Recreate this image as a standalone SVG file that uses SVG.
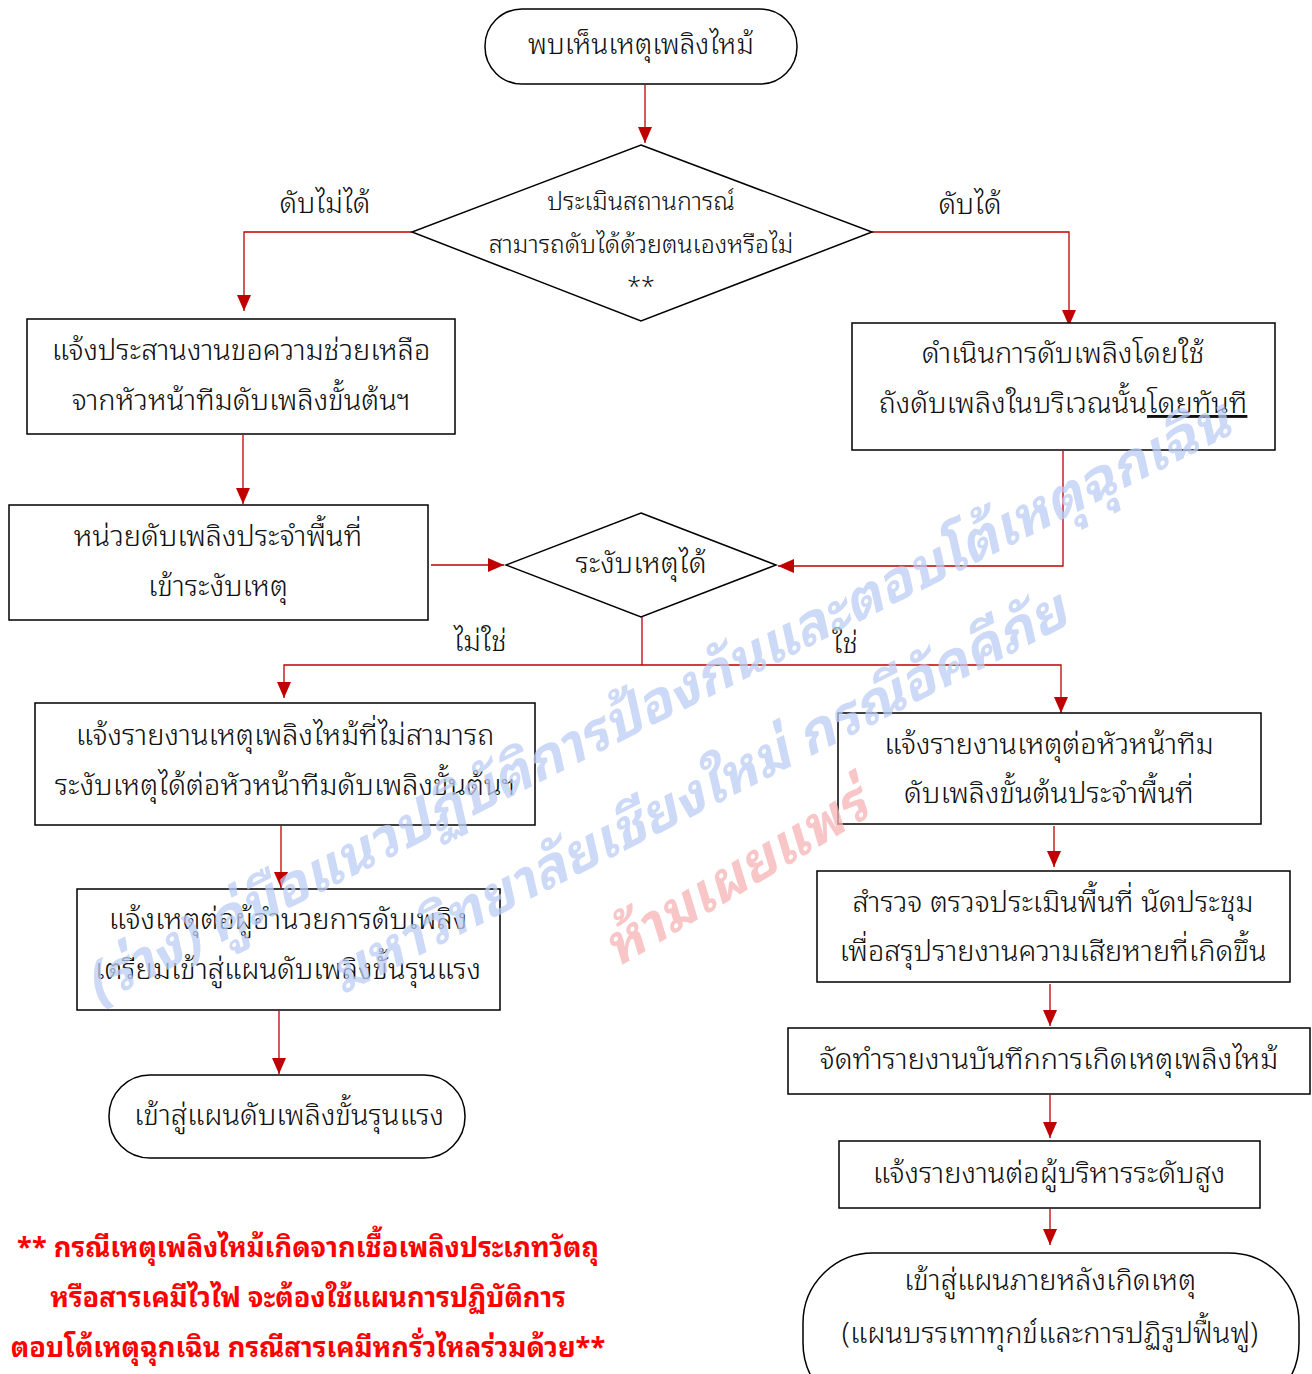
<svg xmlns="http://www.w3.org/2000/svg" width="1312" height="1374" viewBox="0 0 1312 1374">
  <style>
    .bg { fill: #ffffff; }
    .box { fill: #ffffff; stroke: #000000; stroke-width: 1.5; }
    .t { font-family: "Noto Sans Thai Looped", "Loma", "Garuda", "Noto Sans Thai", "Noto Sans", sans-serif; font-weight: 300; font-size: 29px; fill: #111111; text-anchor: middle; dominant-baseline: middle; }
    .lbl { font-size: 28.5px; }
    .big { font-size: 28px; }
    .dm { font-size: 25px; }
    .note { font-family: "Noto Sans Thai Looped", "Loma", "Garuda", "Noto Sans Thai", "Noto Sans", sans-serif; font-size: 27.3px; font-weight: bold; fill: #ff0000; text-anchor: middle; dominant-baseline: middle; }
    .edge { fill: none; stroke: #c00000; stroke-width: 1.3; }
    .wm { font-family: "Noto Sans Thai Looped", "Loma", "Noto Sans Thai", "Noto Sans", sans-serif; font-weight: bold; font-style: italic; font-size: 55.5px; }
    .wm-blue { fill: #bccdf5; opacity: 0.75; }
    .wm-pink { fill: #f7b3b6; opacity: 0.75; }
  </style>
  <defs>
    <marker id="ah" viewBox="0 0 16 16" refX="16" refY="8" markerWidth="16" markerHeight="16" markerUnits="userSpaceOnUse" orient="auto">
      <path d="M0,1 L16,8 L0,15 Z" fill="#c00000"/>
    </marker>
  </defs>
  <rect class="bg" x="0" y="0" width="1312" height="1374"/>

  <!-- connectors -->
  <g id="connectors">
    <path class="edge" d="M645,85 V143" marker-end="url(#ah)"/>
    <path class="edge" d="M412,232 H244 V311" marker-end="url(#ah)"/>
    <path class="edge" d="M872,232 H1069 V326" marker-end="url(#ah)"/>
    <path class="edge" d="M243,435 V504" marker-end="url(#ah)"/>
    <path class="edge" d="M431,565 H504" marker-end="url(#ah)"/>
    <path class="edge" d="M1063,451 V566 H778" marker-end="url(#ah)"/>
    <path class="edge" d="M642,617 V665"/>
    <path class="edge" d="M642,665 H284 V698" marker-end="url(#ah)"/>
    <path class="edge" d="M642,665 H1061 V713" marker-end="url(#ah)"/>
    <path class="edge" d="M281,826 V888" marker-end="url(#ah)"/>
    <path class="edge" d="M279,1011 V1074" marker-end="url(#ah)"/>
    <path class="edge" d="M1054,826 V867" marker-end="url(#ah)"/>
    <path class="edge" d="M1050,984 V1026" marker-end="url(#ah)"/>
    <path class="edge" d="M1050,1095 V1138" marker-end="url(#ah)"/>
    <path class="edge" d="M1050,1209 V1245" marker-end="url(#ah)"/>
    <text class="t lbl" x="325" y="205">ดับไม่ได้</text>
    <text class="t lbl" x="970" y="206">ดับได้</text>
    <text class="t lbl" x="480" y="643">ไม่ใช่</text>
    <text class="t lbl" x="845" y="645">ใช่</text>
  </g>

  <g id="start">
    <rect class="box" x="485" y="9" width="312" height="75" rx="37" ry="37"/>
    <text class="t big" x="641" y="47">พบเห็นเหตุเพลิงไหม้</text>
  </g>

  <g id="assess">
    <polygon class="box" points="641,145 872,232 641,321 412,232"/>
    <text class="t dm" x="641" y="203">ประเมินสถานการณ์</text>
    <text class="t dm" x="641" y="246">สามารถดับได้ด้วยตนเองหรือไม่</text>
    <text class="t dm" x="641" y="288">**</text>
  </g>

  <g id="request-help">
    <rect class="box" x="27" y="319" width="428" height="115"/>
    <text class="t" x="241" y="352">แจ้งประสานงานขอความช่วยเหลือ</text>
    <text class="t" x="241" y="402">จากหัวหน้าทีมดับเพลิงขั้นต้นฯ</text>
  </g>

  <g id="extinguish">
    <rect class="box" x="852" y="323" width="423" height="127"/>
    <text class="t" x="1063" y="355">ดำเนินการดับเพลิงโดยใช้</text>
    <text class="t" x="1063" y="405">ถังดับเพลิงในบริเวณนั้น<tspan text-decoration="underline">โดยทันที</tspan></text>
  </g>

  <g id="local-unit">
    <rect class="box" x="9" y="505" width="419" height="115"/>
    <text class="t" x="218" y="538">หน่วยดับเพลิงประจำพื้นที่</text>
    <text class="t" x="218" y="588">เข้าระงับเหตุ</text>
  </g>

  <g id="controlled">
    <polygon class="box" points="641,513 776,565 641,617 506,565"/>
    <text class="t" x="641" y="565">ระงับเหตุได้</text>
  </g>

  <g id="report-uncontrolled">
    <rect class="box" x="35" y="703" width="500" height="122"/>
    <text class="t" x="285" y="737">แจ้งรายงานเหตุเพลิงไหม้ที่ไม่สามารถ</text>
    <text class="t" x="285" y="787">ระงับเหตุได้ต่อหัวหน้าทีมดับเพลิงขั้นต้นฯ</text>
  </g>

  <g id="notify-director">
    <rect class="box" x="77" y="889" width="423" height="121"/>
    <text class="t" x="288" y="921">แจ้งเหตุต่อผู้อำนวยการดับเพลิง</text>
    <text class="t" x="288" y="971">เตรียมเข้าสู่แผนดับเพลิงขั้นรุนแรง</text>
  </g>

  <g id="severe-plan">
    <rect class="box" x="109" y="1075" width="356" height="83" rx="41" ry="41"/>
    <text class="t" x="289" y="1117">เข้าสู่แผนดับเพลิงขั้นรุนแรง</text>
  </g>

  <g id="report-team-lead">
    <rect class="box" x="838" y="713" width="423" height="111"/>
    <text class="t" x="1049" y="746">แจ้งรายงานเหตุต่อหัวหน้าทีม</text>
    <text class="t" x="1049" y="795">ดับเพลิงขั้นต้นประจำพื้นที่</text>
  </g>

  <g id="survey">
    <rect class="box" x="817" y="871" width="473" height="111"/>
    <text class="t" x="1053" y="904">สำรวจ ตรวจประเมินพื้นที่ นัดประชุม</text>
    <text class="t" x="1053" y="953">เพื่อสรุปรายงานความเสียหายที่เกิดขึ้น</text>
  </g>

  <g id="record">
    <rect class="box" x="788" y="1028" width="522" height="66"/>
    <text class="t" x="1049" y="1061">จัดทำรายงานบันทึกการเกิดเหตุเพลิงไหม้</text>
  </g>

  <g id="report-exec">
    <rect class="box" x="839" y="1141" width="421" height="67"/>
    <text class="t" x="1049" y="1175">แจ้งรายงานต่อผู้บริหารระดับสูง</text>
  </g>

  <g id="recovery">
    <rect class="box" x="803" y="1253" width="496" height="160" rx="70" ry="70"/>
    <text class="t" x="1050" y="1282">เข้าสู่แผนภายหลังเกิดเหตุ</text>
    <text class="t" x="1050" y="1335">(แผนบรรเทาทุกข์และการปฏิรูปฟื้นฟู)</text>
  </g>

  <g id="footnote">
    <text class="note" x="308" y="1250">** กรณีเหตุเพลิงไหม้เกิดจากเชื้อเพลิงประเภทวัตถุ</text>
    <text class="note" x="308" y="1300">หรือสารเคมีไวไฟ จะต้องใช้แผนการปฏิบัติการ</text>
    <text class="note" x="308" y="1350">ตอบโต้เหตุฉุกเฉิน กรณีสารเคมีหกรั่วไหลร่วมด้วย**</text>
  </g>

  <!-- watermark -->
  <g id="watermark">
    <text class="wm wm-blue" transform="translate(97,1005) rotate(-26.7)">(ร่าง) คู่มือแนวปฏิบัติการป้องกันและตอบโต้เหตุฉุกเฉิน</text>
    <text class="wm wm-blue" transform="translate(342,995) rotate(-27)">มหาวิทยาลัยเชียงใหม่ กรณีอัคคีภัย</text>
    <text class="wm wm-pink" transform="translate(617,968) rotate(-31)">ห้ามเผยแพร่</text>
  </g>
</svg>
